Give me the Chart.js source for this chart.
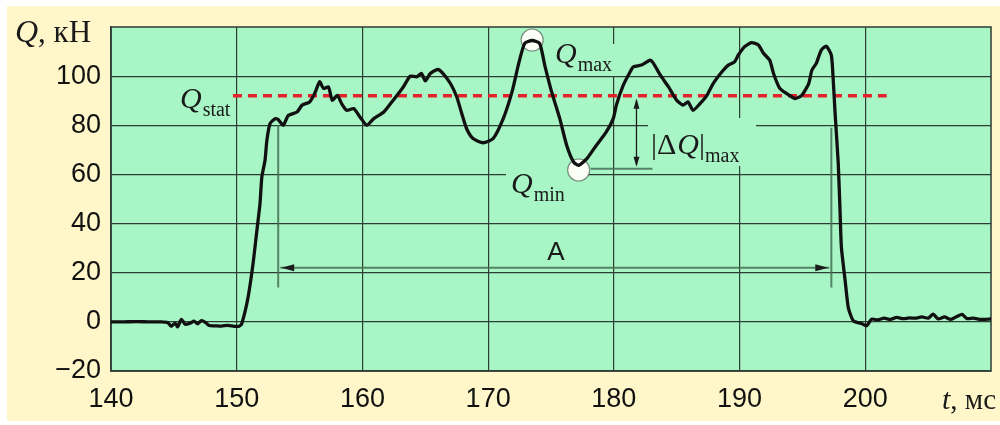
<!DOCTYPE html>
<html>
<head>
<meta charset="utf-8">
<script src="https://cdn.jsdelivr.net/npm/chart.js@4/dist/chart.umd.min.js"></script>
<style>
  html, body { margin: 0; padding: 0; background: #fff; }
  #wrap { width: 1000px; height: 425px; }
</style>
</head>
<body>
<div id="wrap"><canvas id="loadChart" width="1000" height="425"></canvas></div>
<script>
// force trace
const timeMs = [
  140.0, 141.0, 142.0, 143.0, 144.0, 144.5, 144.8, 145.1, 145.3, 145.6, 145.9, 146.3, 146.6, 146.9,
  147.2, 147.5, 147.8, 148.3, 148.8, 149.3, 149.8, 150.2, 150.4, 150.9, 151.3, 151.6, 151.85, 152.0,
  152.25, 152.4, 152.65, 153.05, 153.3, 153.7, 154.1, 154.8, 155.2, 155.8, 156.2, 156.6, 156.9, 157.3,
  157.6, 158.0, 158.35, 158.75, 159.3, 159.8, 160.35, 160.9, 161.7, 162.45, 163.25, 163.8, 164.3, 164.7,
  165.0, 165.4, 166.0, 166.4, 167.0, 167.5, 167.9, 168.3, 168.8, 169.6, 170.4, 171.2, 171.9, 172.4,
  172.9, 173.5, 174.1, 174.5, 175.05, 175.7, 176.25, 176.8, 177.2, 177.85, 178.6, 179.4, 179.95, 180.2,
  180.75, 181.3, 181.55, 182.2, 182.9, 183.15, 183.7, 184.35, 185.0, 185.5, 185.9, 186.3, 186.85, 187.4,
  187.9, 188.6, 189.1, 189.6, 189.9, 190.4, 190.95, 191.5, 191.9, 192.4, 192.7, 193.2, 193.75, 194.4,
  194.95, 195.5, 195.75, 196.1, 196.5, 196.9, 197.3, 197.45, 197.6, 197.85, 198.0, 198.1, 198.4, 198.65,
  199.05, 199.7, 200.1, 200.5, 201.0, 201.5, 202.0, 202.5, 203.0, 203.5, 204.0, 204.5, 205.0, 205.4,
  205.8, 206.3, 206.8, 207.3, 207.7, 208.1, 208.6, 209.2, 210.0
];
const forceKN = [
  0, 0, 0.1, 0, 0, -0.3, -1.8, -0.5, -2.0, 1.0, -1.0, -0.5, 0.3, -0.8,
  0.5, -0.2, -1.5, -1.6, -1.7, -1.4, -1.8, -1.8, -0.8, 9.9, 23.7, 37, 48, 59,
  65.7, 73.9, 80.7, 82.7, 82.3, 80, 84, 85.4, 88.2, 89.5, 92.9, 97.7, 95, 95.6,
  90.2, 92.2, 88.8, 86.1, 86.8, 83.4, 80, 82.7, 85.4, 90.2, 95.6, 100, 99.7, 101.1,
  98.1, 101.1, 102.7, 101.1, 97, 91.6, 84.8, 78.5, 74.6, 72.9, 74.6, 82.7, 93.6, 104.5,
  113.3, 114.5, 113.3, 104.5, 93.6, 82.7, 71.8, 65, 63.7, 66.4, 71.8, 77.3, 82.7, 88.2,
  96.3, 101.8, 103.8, 104.5, 106.5, 105.2, 100.4, 95.6, 90.2, 88.2, 89.5, 86.1, 88.8, 92.2,
  97, 101.8, 104.5, 105.8, 108.6, 112, 113.6, 112.7, 109.3, 106.5, 101.1, 95, 92.9, 90.9,
  92.2, 97, 102.4, 105.2, 110.6, 112.2, 108.5, 98.4, 84.8, 64.4, 44, 30.3, 16.7, 5.8,
  0.4, -0.7, -1.6, 1.1, 0.8, 1.5, 1.0, 1.8, 1.3, 1.6, 1.5, 2.0, 1.5, 3.1,
  1.2, 2.0, 1.0, 2.2, 3.0, 1.3, 1.5, 1.0, 1.2
];
const xTickValues = [140, 150, 160, 170, 180, 190, 200];
const yTickValues = [-20, 0, 20, 40, 60, 80, 100];

// annotation values (data units)
const qStat = 92;
const qStatSpan = [149.7, 201.7];
const qMaxPoint = [173.5, 114.7];
const qMinPoint = [177.2, 61.8];
const spanA = [153.3, 197.3];
const spanALevel = 22;
const deltaQTime = 181.8;

const GREEN = '#a8f6c5';
const CREAM = '#fff7c9';
const GRID = '#2e3d33';
const GUIDE = 'rgba(70,110,85,0.85)';
const SERIF = '"Liberation Serif", "DejaVu Serif", serif';
const SANS = '"Liberation Sans", Arial, sans-serif';

function drawQ(ctx, x, y, sub, size, align) {
  // italic Q with an upright subscript
  ctx.save();
  ctx.textBaseline = 'alphabetic';
  ctx.textAlign = 'left';
  ctx.font = 'italic ' + size + 'px ' + SERIF;
  const wq = ctx.measureText('Q').width;
  ctx.font = Math.round(size * 0.68) + 'px ' + SERIF;
  const ws = sub ? ctx.measureText(sub).width : 0;
  let x0 = align === 'right' ? x - wq - ws - 1 : x;
  ctx.fillStyle = '#1a1a1a';
  ctx.font = 'italic ' + size + 'px ' + SERIF;
  ctx.fillText('Q', x0, y);
  if (sub) {
    ctx.font = Math.round(size * 0.68) + 'px ' + SERIF;
    ctx.fillText(sub, x0 + wq + 1, y + size * 0.26);
  }
  ctx.restore();
  return { x0: x0, w: wq + ws + 1 };
}

function arrowHead(ctx, x, y, dx, dy, len, half) {
  const nx = -dy, ny = dx;
  ctx.beginPath();
  ctx.moveTo(x, y);
  ctx.lineTo(x - dx * len + nx * half, y - dy * len + ny * half);
  ctx.lineTo(x - dx * len - nx * half, y - dy * len - ny * half);
  ctx.closePath();
  ctx.fill();
}

const backdrop = {
  id: 'backdrop',
  beforeDraw(chart) {
    const { ctx, chartArea: a } = chart;
    ctx.save();
    ctx.fillStyle = '#fff';
    ctx.fillRect(0, 0, chart.width, chart.height);
    ctx.fillStyle = CREAM;
    ctx.fillRect(7, 6, chart.width - 7, chart.height - 10);
    ctx.fillStyle = GREEN;
    ctx.fillRect(a.left, a.top, a.right - a.left, a.bottom - a.top);
    ctx.restore();
  }
};

const marks = {
  id: 'marks',
  beforeDatasetsDraw(chart) {
    const { ctx, chartArea: a } = chart;
    const xs = chart.scales.x, ys = chart.scales.y;
    ctx.save();
    // frame
    ctx.strokeStyle = GRID;
    ctx.lineWidth = 1.5;
    ctx.strokeRect(a.left, a.top, a.right - a.left, a.bottom - a.top);

    // label patches hiding grid lines
    ctx.fillStyle = GREEN;
    ctx.fillRect(548, 44, 76, 32);
    ctx.fillRect(506, 170, 66, 40);
    ctx.fillRect(648, 118, 108, 48);

    // Q_stat dashed line
    ctx.strokeStyle = '#e3232c';
    ctx.lineWidth = 3.5;
    ctx.setLineDash([9, 6]);
    ctx.beginPath();
    ctx.moveTo(xs.getPixelForValue(qStatSpan[0]), ys.getPixelForValue(qStat));
    ctx.lineTo(xs.getPixelForValue(qStatSpan[1]), ys.getPixelForValue(qStat));
    ctx.stroke();
    ctx.setLineDash([]);

    // span A with extension lines
    const xa0 = xs.getPixelForValue(spanA[0]), xa1 = xs.getPixelForValue(spanA[1]);
    const ya = ys.getPixelForValue(spanALevel);
    ctx.strokeStyle = GUIDE;
    ctx.lineWidth = 2;
    ctx.beginPath();
    ctx.moveTo(xa0, ys.getPixelForValue(80)); ctx.lineTo(xa0, ys.getPixelForValue(14));
    ctx.moveTo(xa1, ys.getPixelForValue(79)); ctx.lineTo(xa1, ys.getPixelForValue(14));
    ctx.moveTo(xa0 + 2, ya); ctx.lineTo(xa1 - 2, ya);
    ctx.stroke();
    ctx.fillStyle = '#1a1a1a';
    arrowHead(ctx, xa0 + 3, ya, -1, 0, 13, 3.5);
    arrowHead(ctx, xa1 - 3, ya, 1, 0, 13, 3.5);

    // |dQ|max arrow and Q_min guide
    const xd = xs.getPixelForValue(deltaQTime);
    const yTop = ys.getPixelForValue(qStat), yBot = ys.getPixelForValue(qMinPoint[1] + 0.5);
    ctx.strokeStyle = GUIDE;
    ctx.lineWidth = 2;
    ctx.beginPath();
    ctx.moveTo(xs.getPixelForValue(qMinPoint[0]) + 12, yBot);
    ctx.lineTo(xd + 16, yBot);
    ctx.stroke();
    ctx.strokeStyle = '#1a1a1a';
    ctx.lineWidth = 1.3;
    ctx.beginPath();
    ctx.moveTo(xd, yTop + 4); ctx.lineTo(xd, yBot - 4);
    ctx.stroke();
    ctx.fillStyle = '#1a1a1a';
    arrowHead(ctx, xd, yTop + 3, 0, -1, 10, 3);
    arrowHead(ctx, xd, yBot - 2, 0, 1, 10, 3);

    // white marker circles
    [qMaxPoint, qMinPoint].forEach(p => {
      const cx = xs.getPixelForValue(p[0]), cy = ys.getPixelForValue(p[1]);
      ctx.beginPath();
      ctx.arc(cx, cy, 11, 0, Math.PI * 2);
      ctx.fillStyle = '#fbfff6';
      ctx.fill();
      ctx.strokeStyle = 'rgba(60,70,60,0.6)';
      ctx.lineWidth = 1.2;
      ctx.stroke();
    });
    ctx.restore();
  },
  afterDraw(chart) {
    const { ctx } = chart;
    const xs = chart.scales.x, ys = chart.scales.y;
    ctx.save();
    drawQ(ctx, xs.getPixelForValue(149.5), ys.getPixelForValue(qStat) + 12, 'stat', 30, 'right');
    drawQ(ctx, 555, 63, 'max', 30);
    drawQ(ctx, 511, 193, 'min', 30);

    // |ΔQ|max
    ctx.fillStyle = '#1a1a1a';
    ctx.textBaseline = 'alphabetic';
    ctx.font = '30px ' + SERIF;
    let x = 651;
    const yb = 154;
    ctx.fillText('|', x, yb); x += ctx.measureText('|').width;
    ctx.fillText('\u0394', x, yb); x += ctx.measureText('\u0394').width + 1;
    ctx.font = 'italic 30px ' + SERIF;
    ctx.fillText('Q', x, yb); x += ctx.measureText('Q').width;
    ctx.font = '30px ' + SERIF;
    ctx.fillText('|', x, yb); x += ctx.measureText('|').width;
    ctx.font = '20px ' + SERIF;
    ctx.fillText('max', x, yb + 8);

    // A
    ctx.font = '26px ' + SANS;
    ctx.textAlign = 'center';
    ctx.fillText('A', 556, 260);

    // axis titles
    ctx.textAlign = 'left';
    ctx.font = 'italic 32px ' + SERIF;
    ctx.fillText('Q', 15, 42);
    let w = ctx.measureText('Q').width;
    ctx.font = '31px ' + SERIF;
    ctx.fillText(', кН', 15 + w, 42);

    ctx.font = '29px ' + SERIF;
    const unit = ', мс';
    const wu = ctx.measureText(unit).width;
    ctx.fillText(unit, 996 - wu, 409);
    ctx.font = 'italic 30px ' + SERIF;
    const wt = ctx.measureText('t').width;
    ctx.fillText('t', 996 - wu - wt, 409);
    ctx.restore();
  }
};

new Chart(document.getElementById('loadChart'), {
  type: 'line',
  data: {
    datasets: [{
      data: timeMs.map((t, i) => ({ x: t, y: forceKN[i] })),
      borderColor: '#111',
      borderWidth: 3.3,
      pointRadius: 0,
      tension: 0.2,
      fill: false
    }]
  },
  options: {
    responsive: false,
    animation: false,
    devicePixelRatio: 1,
    layout: { padding: { top: 27, right: 9, left: 0, bottom: 0 } },
    plugins: { legend: { display: false }, tooltip: { enabled: false } },
    scales: {
      x: {
        type: 'linear',
        min: 140, max: 210,
        afterBuildTicks: s => { s.ticks = xTickValues.map(v => ({ value: v })); },
        afterFit: s => { s.height = 54; },
        grid: { color: GRID, lineWidth: 1.2, drawTicks: false },
        border: { display: true, color: GRID, width: 1.5 },
        ticks: { color: '#111', padding: 12, font: { family: SANS, size: 27 } }
      },
      y: {
        min: -20, max: 120,
        afterBuildTicks: s => { s.ticks = yTickValues.map(v => ({ value: v })); },
        afterFit: s => { s.width = 111; },
        grid: { color: GRID, lineWidth: 1.2, drawTicks: false },
        border: { display: true, color: GRID, width: 1.5 },
        ticks: {
          color: '#111', padding: 10, font: { family: SANS, size: 27 },
          callback: v => v < 0 ? '\u2212' + Math.abs(v) : String(v)
        }
      }
    }
  },
  plugins: [backdrop, marks]
});
</script>
</body>
</html>
